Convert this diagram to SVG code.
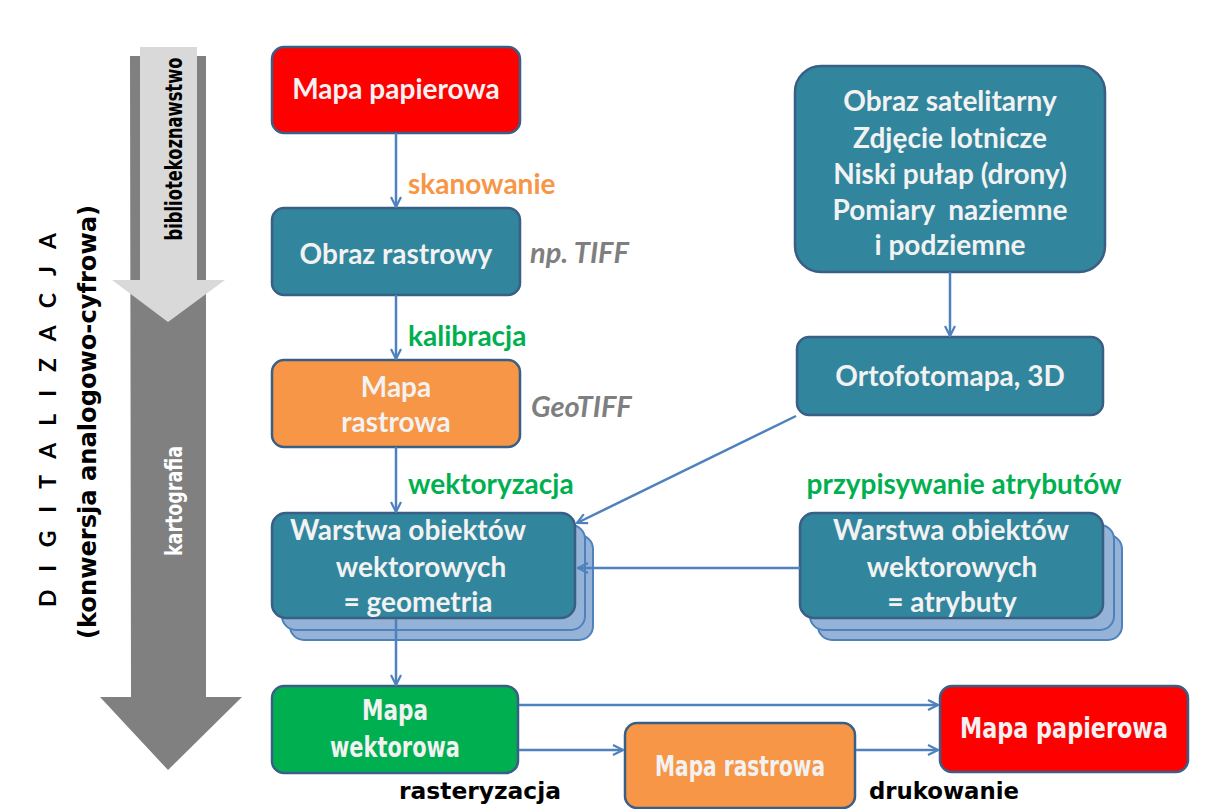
<svg xmlns="http://www.w3.org/2000/svg" width="1215" height="809" viewBox="0 0 1215 809">
<defs>
<style>
.box{stroke:#3a5f86;stroke-width:2.5}
.teal{fill:#31859c}
.red{fill:#ff0000}
.orange{fill:#f79646}
.green{fill:#00b050}
.layer{fill:#95b3d7;stroke:#4f81bd;stroke-width:2}
.nt{font-family:Lato,"Open Sans","Liberation Sans",sans-serif;font-weight:bold;font-size:28px;fill:#f2f2f2;text-anchor:middle}
.lbl{font-family:Lato,"Open Sans","Liberation Sans",sans-serif;font-weight:bold;font-size:28px}
.gray{font-family:Lato,"Open Sans","Liberation Sans",sans-serif;font-weight:bold;font-style:italic;font-size:29px;fill:#7f7f7f}
.cond{font-family:"Liberation Sans Narrow","DejaVu Sans Condensed",Lato,"Liberation Sans",sans-serif;font-weight:bold}
.conn{fill:none;stroke:#4f81bd;stroke-width:2.5}
</style>
<marker id="ah" viewBox="0 0 12 12" refX="11" refY="6" markerWidth="12" markerHeight="12" markerUnits="userSpaceOnUse" orient="auto">
<polyline points="1,1 11,6 1,11" fill="none" stroke="#4f81bd" stroke-width="2.2"/>
</marker>
</defs>
<rect width="1215" height="809" fill="#ffffff"/>

<g id="left-arrows">
<polygon points="130,56 206,56 206,697 242,697 168,770 100,697 131,697" fill="#808080"/>
<polygon points="140,47 197,47 197,280 225,280 168,322 112,280 140,280" fill="#d9d9d9"/>
<text class="cond" font-size="23" fill="#000" text-anchor="middle" textLength="183" lengthAdjust="spacingAndGlyphs" transform="translate(182,149) rotate(-90)">bibliotekoznawstwo</text>
<text class="cond" font-size="23" fill="#ffffff" text-anchor="middle" textLength="110" lengthAdjust="spacingAndGlyphs" transform="translate(182,501) rotate(-90)">kartografia</text>
<text font-family="Lato,'Liberation Sans',Arial,sans-serif" font-weight="bold" font-size="23" fill="#000" text-anchor="middle" textLength="374" lengthAdjust="spacing" transform="translate(56,420) rotate(-90)">D I G I T A L I Z A C J A</text>
<text class="cond" font-size="25" fill="#000" text-anchor="middle" textLength="434" lengthAdjust="spacingAndGlyphs" transform="translate(96,422) rotate(-90)">(konwersja analogowo-cyfrowa)</text>
</g>

<g id="n-mapa-papierowa-top">
<rect class="box red" x="272" y="47" width="248" height="86" rx="12"/>
<text class="nt" x="396" y="99">Mapa papierowa</text>
</g>

<g id="n-obraz-rastrowy">
<rect class="box teal" x="272" y="208" width="248" height="87" rx="12"/>
<text class="nt" x="396" y="264">Obraz rastrowy</text>
<text class="gray" x="530" y="263">np. TIFF</text>
</g>

<g id="n-mapa-rastrowa">
<rect class="box orange" x="272" y="360" width="248" height="87" rx="12"/>
<text class="nt" x="396" y="397">Mapa</text>
<text class="nt" x="396" y="432">rastrowa</text>
<text class="gray" x="531" y="417">GeoTIFF</text>
</g>

<g id="n-obraz-satelitarny">
<rect class="box teal" x="795" y="66" width="310" height="206" rx="26"/>
<text class="nt" x="950" y="111">Obraz satelitarny</text>
<text class="nt" x="950" y="148">Zdjęcie lotnicze</text>
<text class="nt" x="950" y="184">Niski pułap (drony)</text>
<text class="nt" x="950" y="220" xml:space="preserve">Pomiary  naziemne</text>
<text class="nt" x="950" y="255">i podziemne</text>
</g>

<g id="n-ortofotomapa">
<rect class="box teal" x="797" y="337" width="306" height="78" rx="12"/>
<text class="nt" x="950" y="386">Ortofotomapa, 3D</text>
</g>

<g id="n-warstwa-geometria">
<rect class="layer" x="290" y="535" width="303" height="105" rx="14"/>
<rect class="layer" x="282" y="525" width="303" height="105" rx="14"/>
<rect class="box teal" x="272" y="513" width="303" height="105" rx="14"/>
<text class="nt" x="408" y="540" font-size="29">Warstwa obiektów</text>
<text class="nt" x="421" y="577">wektorowych</text>
<text class="nt" x="418" y="612">= geometria</text>
</g>

<g id="n-warstwa-atrybuty">
<rect class="layer" x="818" y="535" width="304" height="105" rx="14"/>
<rect class="layer" x="810" y="525" width="304" height="105" rx="14"/>
<rect class="box teal" x="800" y="513" width="303" height="105" rx="14"/>
<text class="nt" x="951" y="540" font-size="29">Warstwa obiektów</text>
<text class="nt" x="952" y="577">wektorowych</text>
<text class="nt" x="952" y="612">= atrybuty</text>
</g>

<g id="n-mapa-wektorowa">
<rect class="box green" x="272" y="686" width="246" height="87" rx="12"/>
<text class="nt cond" x="395" y="720" textLength="66" lengthAdjust="spacingAndGlyphs">Mapa</text>
<text class="nt cond" x="395" y="757" textLength="130" lengthAdjust="spacingAndGlyphs">wektorowa</text>
</g>

<g id="n-mapa-rastrowa-bottom">
<rect class="box orange" x="625" y="723" width="230" height="85" rx="12"/>
<text class="nt cond" x="740" y="776" textLength="170" lengthAdjust="spacingAndGlyphs">Mapa rastrowa</text>
</g>

<g id="n-mapa-papierowa-bottom">
<rect class="box red" x="940" y="686" width="248" height="86" rx="12"/>
<text class="nt cond" x="1064" y="738" textLength="208" lengthAdjust="spacingAndGlyphs">Mapa papierowa</text>
</g>

<g id="connectors">
<line class="conn" x1="396" y1="133" x2="396" y2="207" marker-end="url(#ah)"/>
<line class="conn" x1="396" y1="295" x2="396" y2="359" marker-end="url(#ah)"/>
<line class="conn" x1="396" y1="447" x2="396" y2="512" marker-end="url(#ah)"/>
<line class="conn" x1="950" y1="272" x2="950" y2="336" marker-end="url(#ah)"/>
<line class="conn" x1="796" y1="416" x2="577" y2="523" marker-end="url(#ah)"/>
<line class="conn" x1="800" y1="568" x2="578" y2="568" marker-end="url(#ah)"/>
<line class="conn" x1="396" y1="619" x2="396" y2="685" marker-end="url(#ah)"/>
<line class="conn" x1="519" y1="705" x2="938" y2="705" marker-end="url(#ah)"/>
<line class="conn" x1="519" y1="750" x2="623" y2="750" marker-end="url(#ah)"/>
<line class="conn" x1="856" y1="750" x2="938" y2="750" marker-end="url(#ah)"/>
<text class="lbl" x="408" y="194" fill="#f79646">skanowanie</text>
<text class="lbl" x="408" y="346" fill="#00b050">kalibracja</text>
<text class="lbl" x="408" y="494" fill="#00b050">wektoryzacja</text>
<text class="lbl" x="964" y="494" fill="#00b050" text-anchor="middle">przypisywanie atrybutów</text>
<text class="cond" font-size="23" x="480" y="799" fill="#000" text-anchor="middle" textLength="162" lengthAdjust="spacingAndGlyphs">rasteryzacja</text>
<text class="cond" font-size="23" x="944" y="799" fill="#000" text-anchor="middle" textLength="150" lengthAdjust="spacingAndGlyphs">drukowanie</text>
</g>
</svg>
